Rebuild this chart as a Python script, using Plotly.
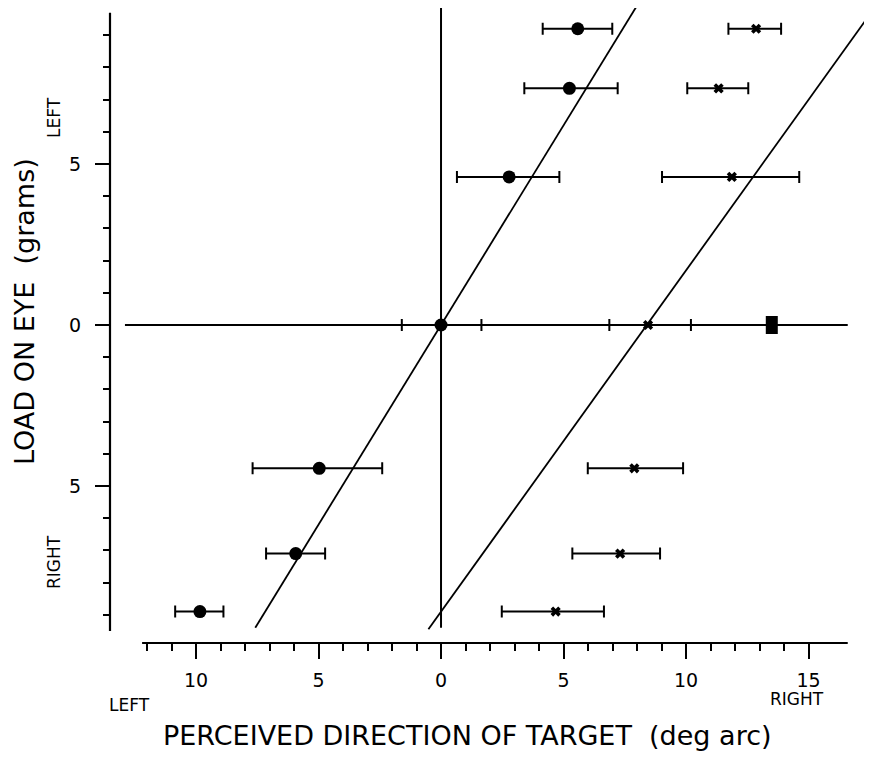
import plotly.graph_objects as go

# ---- data ----
load = [9.2, 7.35, 4.6, 0.0, -4.45, -7.1, -8.9]

circ_x = [5.58, 5.24, 2.78, 0.0, -4.97, -5.93, -9.84]
circ_lo = [4.15, 3.40, 0.65, -1.60, -7.69, -7.14, -10.85]
circ_hi = [6.99, 7.21, 4.83, 1.65, -2.40, -4.73, -8.88]

cross_x = [12.86, 11.33, 11.87, 8.45, 7.89, 7.31, 4.68]
cross_lo = [11.73, 10.05, 9.02, 6.87, 5.99, 5.36, 2.48]
cross_hi = [13.88, 12.54, 14.62, 10.20, 9.88, 8.94, 6.65]

square_x = [13.5, 13.5]
square_y = [-0.28, 0.28]

# fitted lines: load = slope * (direction - x0)
fit_slope = [1.24, 1.06]
fit_x0 = [0.0, 8.4]
fit_load_range = [[-9.4, 10.3], [-9.45, 10.3]]

x_major = [-10, -5, 0, 5, 10, 15]
x_major_text = ["10", "5", "0", "5", "10", "15"]
x_minor = list(range(-12, 15))
y_major = [-5, 0, 5]
y_major_text = ["5", "0", "5"]
y_minor = list(range(-9, 10))

FONT = "DejaVu Sans"

fig = go.Figure()

# fitted lines
for s, x0, (ya, yb) in zip(fit_slope, fit_x0, fit_load_range):
    fig.add_trace(go.Scatter(
        x=[x0 + ya / s, x0 + yb / s], y=[ya, yb], mode="lines",
        line=dict(color="black", width=1.8), hoverinfo="skip", showlegend=False))

def err(center, lo, hi):
    return ([h - c for c, h in zip(center, hi)], [c - l for c, l in zip(center, lo)])

ep, em = err(circ_x, circ_lo, circ_hi)
fig.add_trace(go.Scatter(
    x=circ_x, y=load, mode="markers",
    marker=dict(symbol="circle", size=13, color="black"),
    error_x=dict(type="data", symmetric=False, array=ep, arrayminus=em,
                 color="black", thickness=2, width=6),
    showlegend=False))

ep, em = err(cross_x, cross_lo, cross_hi)
fig.add_trace(go.Scatter(
    x=cross_x, y=load, mode="markers",
    marker=dict(symbol="x", size=9, color="black", line=dict(width=0)),
    error_x=dict(type="data", symmetric=False, array=ep, arrayminus=em,
                 color="black", thickness=2, width=6),
    showlegend=False))

fig.add_trace(go.Scatter(
    x=square_x, y=square_y, mode="lines",
    line=dict(color="black", width=12), showlegend=False, hoverinfo="skip"))

# zero lines and axis lines
fig.add_shape(type="line", x0=-12.9, x1=16.6, y0=0, y1=0,
              line=dict(color="black", width=2), layer="below")
fig.add_shape(type="line", x0=0, x1=0, y0=-9.4, y1=9.9,
              line=dict(color="black", width=2), layer="below")
fig.add_shape(type="line", xref="paper", x0=0, x1=0, y0=-9.5, y1=9.7,
              line=dict(color="black", width=2.2))
fig.add_shape(type="line", yref="paper", y0=0, y1=0, x0=-12.2, x1=16.6,
              line=dict(color="black", width=2.2))

fig.update_xaxes(
    range=[-13.51, 17.59], showgrid=False, zeroline=False, showline=False,
    tickmode="array", tickvals=x_major, ticktext=x_major_text,
    ticks="outside", ticklen=15, tickwidth=2, tickcolor="black",
    ticklabelstandoff=5,
    minor=dict(tickmode="array", tickvals=x_minor, ticks="outside",
               ticklen=7, tickwidth=2, tickcolor="black"),
    tickfont=dict(family=FONT, size=19, color="black"))
fig.update_yaxes(
    range=[-9.876, 9.845], showgrid=False, zeroline=False, showline=False,
    tickmode="array", tickvals=y_major, ticktext=y_major_text,
    ticks="outside", ticklen=14, tickwidth=2, tickcolor="black",
    ticklabelstandoff=10,
    minor=dict(tickmode="array", tickvals=y_minor, ticks="outside",
               ticklen=6, tickwidth=2, tickcolor="black"),
    tickfont=dict(family=FONT, size=19, color="black"))

# positions in page pixels (plot area spans x 110..872, y 8..643)
ann = [
    dict(text="PERCEIVED DIRECTION OF TARGET&nbsp;&nbsp;(deg arc)", x=467, y=735, size=27, angle=0),
    dict(text="LOAD ON EYE&nbsp;&nbsp;(grams)", x=24, y=312, size=27, angle=-90),
    dict(text="LEFT", x=129, y=705, size=17, angle=0),
    dict(text="RIGHT", x=797, y=699, size=17, angle=0),
    dict(text="LEFT", x=54, y=118, size=17, angle=-90),
    dict(text="RIGHT", x=54, y=562, size=17, angle=-90),
]
for a in ann:
    fig.add_annotation(
        text=a["text"], xref="paper", yref="paper",
        x=(a["x"] - 110) / 762, y=(643 - a["y"]) / 635,
        xanchor="center", yanchor="middle", showarrow=False, textangle=a["angle"],
        font=dict(family=FONT, size=a["size"], color="black"))

fig.update_layout(
    width=864, height=750, margin=dict(l=102, r=0, t=0, b=115),
    plot_bgcolor="white", paper_bgcolor="white", showlegend=False)

fig.write_html("out.html")
